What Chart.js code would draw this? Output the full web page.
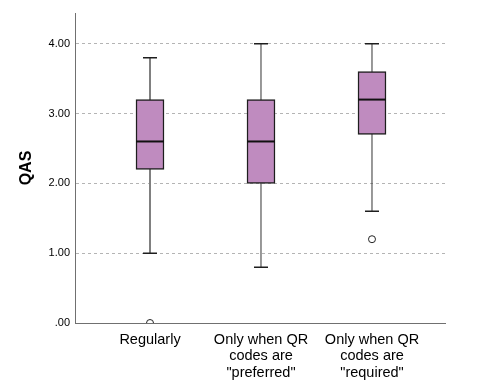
<!DOCTYPE html>
<html>
<head>
<meta charset="utf-8">
<script src="https://cdn.jsdelivr.net/npm/chart.js@4.4.0/dist/chart.umd.min.js"></script>
<style>
  html, body { margin: 0; padding: 0; background: #fff; }
</style>
</head>
<body>
<canvas id="boxChart" width="482" height="387"></canvas>
<script>
// categories and box statistics
var groups = ['Regularly', ['Only when QR', 'codes are', '"preferred"'], ['Only when QR', 'codes are', '"required"']];
var whiskerLow = [1.0, 0.8, 1.6];
var q1 = [2.2, 2.0, 2.7];
var median = [2.6, 2.6, 3.2];
var q3 = [3.2, 3.2, 3.6];
var whiskerHigh = [3.8, 4.0, 4.0];
var outlierGroup = [0, 2];
var outlierValue = [0.0, 1.2];
var yTicks = [0, 1, 2, 3, 4];

var boxFill = '#bf8bbf';
var dark = '#1e1e1e';

// whiskers behind the boxes, medians on top
var boxParts = {
    id: 'boxParts',
    beforeDatasetsDraw: function(chart) {
        var ctx = chart.ctx;
        var xs = chart.scales.x, ys = chart.scales.y;
        ctx.save();
        q1.forEach(function(v, i) {
            var x = xs.getPixelForValue(i);
            var yLo = ys.getPixelForValue(whiskerLow[i]);
            var yHi = ys.getPixelForValue(whiskerHigh[i]);
            ctx.beginPath();
            ctx.strokeStyle = i === 0 ? '#808080' : '#333';
            ctx.lineWidth = i === 0 ? 2 : 1;
            ctx.moveTo(x, yLo);
            ctx.lineTo(x, yHi);
            ctx.stroke();
            ctx.beginPath();
            ctx.strokeStyle = dark;
            ctx.lineWidth = 1.5;
            ctx.moveTo(x - 7, yLo); ctx.lineTo(x + 7, yLo);
            ctx.moveTo(x - 7, yHi); ctx.lineTo(x + 7, yHi);
            ctx.stroke();
        });
        ctx.restore();
    },
    afterDatasetsDraw: function(chart) {
        var ctx = chart.ctx;
        var xs = chart.scales.x, ys = chart.scales.y;
        ctx.save();
        ctx.strokeStyle = '#111';
        ctx.lineWidth = 2;
        median.forEach(function(m, i) {
            var x = xs.getPixelForValue(i);
            var y = ys.getPixelForValue(m);
            ctx.beginPath();
            ctx.moveTo(x - 14, y);
            ctx.lineTo(x + 14, y);
            ctx.stroke();
        });
        ctx.restore();
    }
};

var boxData = q1.map(function(v, i) { return {x: i, y: [v, q3[i]]}; });
var outlierData = outlierGroup.map(function(g, i) { return {x: g, y: outlierValue[i]}; });

var ctx = document.getElementById('boxChart').getContext('2d');
var chart = new Chart(ctx, {
    type: 'bar',
    data: {
        datasets: [
            {
                type: 'scatter',
                data: outlierData,
                pointRadius: 3.5,
                pointBackgroundColor: '#fff',
                pointBorderColor: '#222',
                pointBorderWidth: 1,
                clip: {left: 10, top: 10, right: 10, bottom: 0}
            },
            {
                data: boxData,
                backgroundColor: boxFill,
                borderColor: dark,
                borderWidth: 1.5,
                borderSkipped: false,
                barThickness: 28
            }
        ]
    },
    options: {
        responsive: false,
        animation: false,
        layout: { padding: { top: 13, right: 37, left: 0, bottom: 0 } },
        plugins: { legend: { display: false }, tooltip: { enabled: false } },
        scales: {
            x: {
                type: 'linear',
                offset: false,
                min: -0.6757,
                max: 2.6577,
                afterBuildTicks: function(scale) {
                    scale.ticks = groups.map(function(g, i) { return {value: i}; });
                },
                afterFit: function(scale) { scale.height = 64; },
                grid: { display: false, offset: false },
                border: { display: true, color: '#707070', width: 1 },
                ticks: {
                    maxRotation: 0,
                    autoSkip: false,
                    padding: 1,
                    color: '#000',
                    font: { family: 'Liberation Sans, Arial', size: 14.5, lineHeight: 1.12 },
                    callback: function(v) { return groups[v]; }
                }
            },
            y: {
                min: 0,
                max: 4.44,
                afterBuildTicks: function(scale) {
                    scale.ticks = yTicks.map(function(v) { return {value: v}; });
                },
                afterFit: function(scale) { scale.width = 75; },
                grid: { color: '#b4b4b4', lineWidth: 1, drawTicks: false },
                border: { display: true, color: '#707070', width: 1, dash: [3, 3] },
                ticks: {
                    padding: 5,
                    color: '#000',
                    font: { family: 'Liberation Sans, Arial', size: 11 },
                    callback: function(v) { return v === 0 ? '.00' : v.toFixed(2); }
                },
                title: {
                    display: true,
                    text: 'QAS',
                    color: '#000',
                    font: { family: 'Liberation Sans, Arial', size: 16, weight: 'bold' },
                    padding: { top: 17, bottom: 0 }
                }
            }
        }
    },
    plugins: [boxParts]
});
</script>
</body>
</html>
